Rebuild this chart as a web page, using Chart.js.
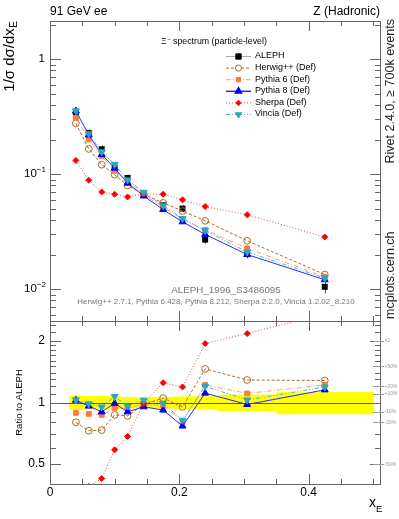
<!DOCTYPE html>
<html>
<head>
<meta charset="utf-8">
<script src="https://cdn.jsdelivr.net/npm/chart.js@4.4.1/dist/chart.umd.min.js"></script>
<style>
  html, body { margin: 0; padding: 0; background: #fff; }
  #wrap { position: relative; width: 399px; height: 519px; }
  canvas { position: absolute; left: 0; top: 0; }
</style>
</head>
<body>
<div id="wrap">
  <canvas id="mainChart" width="399" height="519"></canvas>
  <canvas id="ratioChart" width="399" height="519"></canvas>
</div>
<script>
// bin centres and edges in x_E
const xE = [0.04, 0.06, 0.08, 0.10, 0.12, 0.145, 0.175, 0.205, 0.24, 0.305, 0.425];
const binEdges = [0.03, 0.05, 0.07, 0.09, 0.11, 0.13, 0.16, 0.19, 0.22, 0.26, 0.35, 0.50];

// 1/sigma dsigma/dx_E
const aleph    = [0.346, 0.228, 0.165, 0.114, 0.093, 0.068, 0.0537, 0.0503, 0.0270, 0.0205, 0.0105];
const alephErr = [0.0277, 0.0171, 0.0124, 0.0080, 0.0060, 0.0041, 0.0035, 0.0035, 0.0020, 0.0019, 0.0013];
const herwig   = [0.277, 0.166, 0.121, 0.0992, 0.080, 0.0666, 0.0564, 0.0479, 0.0394, 0.0264, 0.01344];
const pythia6  = [0.308, 0.2006, 0.1436, 0.1072, 0.087, 0.0666, 0.0519, 0.0407, 0.0329, 0.0227, 0.0128];
const pythia8  = [0.355, 0.219, 0.1485, 0.1129, 0.0837, 0.0648, 0.0493, 0.0386, 0.0300, 0.02005, 0.0121];
const sherpa   = [0.132, 0.0887, 0.0702, 0.067, 0.0635, 0.0673, 0.0671, 0.0599, 0.0524, 0.0445, 0.0285];
const vincia   = [0.356, 0.2246, 0.1568, 0.122, 0.0893, 0.0698, 0.0532, 0.0412, 0.0324, 0.0211, 0.0125];

// axis ticks
const xMajor = [0, 0.2, 0.4];
const xMinor = [0.05, 0.1, 0.15, 0.25, 0.3, 0.35, 0.45, 0.5];
const ratioMajor = [0.5, 1, 2];
const ratioMinor = [0.4, 0.6, 0.7, 0.8, 0.9, 1.1, 1.2, 1.3, 1.4, 1.5, 1.6, 1.7, 1.8, 1.9, 2.2, 2.4];
const ratioMarks = [[2, '\u00d72'], [1.5, '+50%'], [1.2, '+20%'], [1.1, '+10%'], [0.9, '-10%'], [0.8, '-20%'], [0.5, '-50%']];

const FONT = '"Liberation Sans", Arial, sans-serif';
const FRAME = '#666';

const series = [
  { label: 'Vincia (Def)',   data: vincia,  color: '#2aa8c0', line: '#40b8d0', dash: [4, 2, 1, 2, 1, 2], style: 'triangle', rot: 180, r: 4, fill: true },
  { label: 'Sherpa (Def)',   data: sherpa,  color: '#ff0000', line: '#ff4040', dash: [1, 2], style: 'rectRot', rot: 0, r: 3, fill: true },
  { label: 'Pythia 8 (Def)', data: pythia8, color: '#0000ee', line: '#2a2aff', dash: [], style: 'triangle', rot: 0, r: 4, fill: true },
  { label: 'Pythia 6 (Def)', data: pythia6, color: '#ff7a3a', line: '#ffa070', dash: [5, 2, 1, 2], style: 'rect', rot: 0, r: 3.4, fill: true },
  { label: 'Herwig++ (Def)', data: herwig,  color: '#b0682a', line: '#b0682a', dash: [3, 2], style: 'circle', rot: 0, r: 3.4, fill: false }
];

function pts(arr) { return xE.map((x, i) => ({ x: x, y: arr[i] })); }

function mcDataset(s, values, order, clip) {
  return {
    label: s.label,
    data: pts(values),
    order: order,
    showLine: true,
    borderColor: s.line,
    borderWidth: 1,
    borderDash: s.dash,
    pointStyle: s.style,
    pointRotation: s.rot,
    pointRadius: s.r,
    pointBorderColor: s.color,
    pointBackgroundColor: s.fill ? s.color : 'rgba(0,0,0,0)',
    pointBorderWidth: 1,
    tension: 0,
    fill: false,
    clip: clip
  };
}

function supText(ctx, base, sup, xRight, y, size) {
  ctx.font = size + 'px ' + FONT;
  const wb = ctx.measureText(base).width;
  ctx.font = (size * 0.7) + 'px ' + FONT;
  const ws = ctx.measureText(sup).width;
  ctx.textAlign = 'left';
  ctx.textBaseline = 'middle';
  ctx.font = size + 'px ' + FONT;
  ctx.fillText(base, xRight - wb - ws, y);
  ctx.font = (size * 0.7) + 'px ' + FONT;
  ctx.fillText(sup, xRight - ws, y - size * 0.38);
}

function drawFrameAndTicks(ctx, a, xs, ys, yMajor, yMinor) {
  ctx.save();
  ctx.strokeStyle = FRAME;
  ctx.lineWidth = 1;
  ctx.strokeRect(a.left + 0.5, a.top + 0.5, a.right - a.left - 1, a.bottom - a.top);
  ctx.beginPath();
  const tick = (v, len) => {
    const px = Math.round(xs.getPixelForValue(v)) + 0.5;
    ctx.moveTo(px, a.bottom); ctx.lineTo(px, a.bottom - len);
    ctx.moveTo(px, a.top); ctx.lineTo(px, a.top + len);
  };
  xMajor.forEach(v => tick(v, 10));
  xMinor.forEach(v => tick(v, 5));
  const ytick = (v, len) => {
    const py = Math.round(ys.getPixelForValue(v)) + 0.5;
    if (py < a.top || py > a.bottom + 1) return;
    ctx.moveTo(a.left, py); ctx.lineTo(a.left + len, py);
    ctx.moveTo(a.right, py); ctx.lineTo(a.right - len, py);
  };
  yMajor.forEach(v => ytick(v, 11));
  yMinor.forEach(v => ytick(v, 6));
  ctx.stroke();
  ctx.restore();
}

// ---------- upper plot ----------
const logMajor = [1, 0.1, 0.01];
const logMinor = [];
[0.001, 0.01, 0.1, 1].forEach(d => { for (let k = 2; k <= 9; k++) logMinor.push(d * k); });

const mainPlugin = {
  id: 'mainDecor',
  beforeDatasetsDraw(chart) {
    const ctx = chart.ctx, xs = chart.scales.x, ys = chart.scales.y;
    ctx.save();
    ctx.strokeStyle = '#444';
    ctx.lineWidth = 1;
    ctx.beginPath();
    xE.forEach((x, i) => {
      const px = Math.round(xs.getPixelForValue(x)) + 0.5;
      ctx.moveTo(px, ys.getPixelForValue(aleph[i] - alephErr[i]));
      ctx.lineTo(px, ys.getPixelForValue(aleph[i] + alephErr[i]));
    });
    ctx.stroke();
    ctx.restore();
  },
  afterDraw(chart) {
    const ctx = chart.ctx, a = chart.chartArea, xs = chart.scales.x, ys = chart.scales.y;
    drawFrameAndTicks(ctx, a, xs, ys, logMajor, logMinor);
    ctx.save();
    ctx.fillStyle = '#000';
    // header
    ctx.font = '12px ' + FONT;
    ctx.textBaseline = 'alphabetic';
    ctx.textAlign = 'left';
    ctx.fillText('91 GeV ee', 50, 15);
    ctx.textAlign = 'right';
    ctx.fillText('Z (Hadronic)', 380, 15);
    // y tick labels
    ctx.textAlign = 'right';
    ctx.textBaseline = 'middle';
    ctx.font = '11.5px ' + FONT;
    ctx.fillText('1', 45, ys.getPixelForValue(1));
    supText(ctx, '10', '\u22121', 46, ys.getPixelForValue(0.1), 11.5);
    supText(ctx, '10', '\u22122', 46, ys.getPixelForValue(0.01), 11.5);
    // y title
    ctx.save();
    ctx.translate(10, 21);
    ctx.rotate(-Math.PI / 2);
    ctx.textAlign = 'right';
    ctx.textBaseline = 'middle';
    const sub = 'E';
    ctx.font = '10px ' + FONT;
    const wsub = ctx.measureText(sub).width;
    ctx.fillText(sub, 0, 4);
    ctx.font = '15px ' + FONT;
    ctx.fillText('1/\u03c3 d\u03c3/dx', -wsub - 0.5, 0);
    ctx.restore();
    // title inside
    ctx.font = '8.5px ' + FONT;
    ctx.textBaseline = 'middle';
    ctx.textAlign = 'left';
    ctx.fillText('\u039e', 161, 42);
    ctx.font = '6px ' + FONT;
    ctx.fillText('\u2212', 167.5, 39);
    ctx.font = '8.8px ' + FONT;
    ctx.fillText('spectrum (particle-level)', 173, 42);
    // legend
    const legend = [
      { label: 'ALEPH', color: '#000', line: '#aaa', dash: [], style: 'rect', rot: 0, r: 4.2, fill: true }
    ].concat([series[4], series[3], series[2], series[1], series[0]]);
    legend.forEach((s, i) => {
      const y = 56 + i * 11.6;
      ctx.save();
      ctx.strokeStyle = s.line;
      ctx.lineWidth = (s.label === 'Pythia 8 (Def)') ? 1.5 : 1;
      ctx.setLineDash(s.dash);
      ctx.beginPath();
      ctx.moveTo(226, y + 0.5); ctx.lineTo(251, y + 0.5);
      ctx.stroke();
      ctx.setLineDash([]);
      ctx.fillStyle = s.fill ? s.color : '#fff';
      ctx.strokeStyle = s.color;
      Chart.helpers.drawPoint(ctx, { pointStyle: s.style, rotation: s.rot, radius: s.r * 0.9, borderWidth: 1 }, 238.5, y + 0.5);
      ctx.restore();
      ctx.font = '9px ' + FONT;
      ctx.fillStyle = '#000';
      ctx.textAlign = 'left';
      ctx.textBaseline = 'middle';
      ctx.fillText(s.label, 255, y);
    });
    // analysis info
    ctx.fillStyle = '#777';
    ctx.textAlign = 'center';
    ctx.font = '9.8px ' + FONT;
    ctx.fillText('ALEPH_1996_S3486095', 226, 290);
    ctx.font = '8px ' + FONT;
    ctx.fillText('Herwig++ 2.7.1, Pythia 6.428, Pythia 8.212, Sherpa 2.2.0, Vincia 1.2.02_8.210', 216, 302);
    // right side texts
    ctx.save();
    ctx.translate(391, 19);
    ctx.rotate(-Math.PI / 2);
    ctx.font = '12.5px ' + FONT;
    ctx.fillStyle = '#222';
    ctx.textAlign = 'right';
    ctx.textBaseline = 'middle';
    ctx.fillText('Rivet 2.4.0, \u2265 700k events', 0, 0);
    ctx.restore();
    ctx.save();
    ctx.translate(391, 319);
    ctx.rotate(-Math.PI / 2);
    ctx.font = '12.5px ' + FONT;
    ctx.fillStyle = '#222';
    ctx.textAlign = 'left';
    ctx.textBaseline = 'middle';
    ctx.fillText('mcplots.cern.ch', 0, 0);
    ctx.restore();
    ctx.restore();
  }
};

const alephDataset = {
  label: 'ALEPH',
  data: pts(aleph),
  order: 5,
  showLine: false,
  pointStyle: 'rect',
  pointRadius: 4.2,
  pointBackgroundColor: '#000',
  pointBorderColor: '#000',
  pointBorderWidth: 0
};

new Chart(document.getElementById('mainChart').getContext('2d'), {
  type: 'scatter',
  data: {
    datasets: [alephDataset].concat(series.map((s, i) => mcDataset(s, s.data, i)))
  },
  options: {
    responsive: false,
    animation: false,
    devicePixelRatio: 1,
    layout: { padding: { left: 50, right: 18, top: 21, bottom: 198 } },
    plugins: { legend: { display: false }, tooltip: { enabled: false } },
    scales: {
      x: { type: 'linear', min: 0, max: 0.512, display: false },
      y: { type: 'logarithmic', min: 0.0053, max: 2.15, display: false }
    }
  },
  plugins: [mainPlugin]
});

// ---------- ratio plot ----------
const ratioPlugin = {
  id: 'ratioDecor',
  beforeDatasetsDraw(chart) {
    const ctx = chart.ctx, a = chart.chartArea, xs = chart.scales.x, ys = chart.scales.y;
    ctx.save();
    ctx.fillStyle = '#ffff00';
    for (let i = 0; i < aleph.length; i++) {
      const rel = alephErr[i] / aleph[i];
      const x0 = xs.getPixelForValue(binEdges[i]);
      const x1 = xs.getPixelForValue(binEdges[i + 1]);
      const y0 = ys.getPixelForValue(1 + rel);
      const y1 = ys.getPixelForValue(1 - rel);
      ctx.fillRect(x0, y0, x1 - x0 + 0.5, y1 - y0);
    }
    ctx.strokeStyle = '#555';
    ctx.lineWidth = 1;
    ctx.beginPath();
    const py = Math.round(ys.getPixelForValue(1)) + 0.5;
    ctx.moveTo(a.left, py); ctx.lineTo(a.right, py);
    ctx.stroke();
    ctx.restore();
  },
  afterDraw(chart) {
    const ctx = chart.ctx, a = chart.chartArea, xs = chart.scales.x, ys = chart.scales.y;
    drawFrameAndTicks(ctx, a, xs, ys, ratioMajor, ratioMinor);
    ctx.save();
    ctx.fillStyle = '#000';
    ctx.font = '12px ' + FONT;
    ctx.textAlign = 'right';
    ctx.textBaseline = 'middle';
    ratioMajor.forEach(v => ctx.fillText(String(v), 45, ys.getPixelForValue(v)));
    ctx.textAlign = 'center';
    ctx.textBaseline = 'top';
    xMajor.forEach(v => ctx.fillText(String(v), xs.getPixelForValue(v), a.bottom + 3));
    // x title
    ctx.textAlign = 'left';
    ctx.textBaseline = 'alphabetic';
    ctx.font = '14px ' + FONT;
    ctx.fillText('x', 369, 507);
    ctx.font = '9.5px ' + FONT;
    ctx.fillText('E', 376, 512);
    // y title
    ctx.save();
    ctx.translate(19, ys.getPixelForValue(1));
    ctx.rotate(-Math.PI / 2);
    ctx.font = '9.5px ' + FONT;
    ctx.textAlign = 'center';
    ctx.textBaseline = 'middle';
    ctx.fillText('Ratio to ALEPH', 0, 0);
    ctx.restore();
    // right-hand percentage marks
    ctx.strokeStyle = '#999';
    ctx.fillStyle = '#999';
    ctx.font = '5px ' + FONT;
    ctx.textAlign = 'left';
    ctx.textBaseline = 'middle';
    ctx.beginPath();
    ratioMarks.forEach(([v, t]) => {
      const py = Math.round(ys.getPixelForValue(v)) + 0.5;
      ctx.moveTo(a.right - 8, py); ctx.lineTo(a.right + 3, py);
    });
    ctx.stroke();
    ratioMarks.forEach(([v, t]) => ctx.fillText(t, a.right + 3.5, ys.getPixelForValue(v)));
    ctx.restore();
  }
};

new Chart(document.getElementById('ratioChart').getContext('2d'), {
  type: 'scatter',
  data: {
    datasets: series.map((s, i) => mcDataset(s, s.data.map((v, j) => v / aleph[j]), i, 0))
  },
  options: {
    responsive: false,
    animation: false,
    devicePixelRatio: 1,
    layout: { padding: { left: 50, right: 18, top: 321, bottom: 35 } },
    plugins: { legend: { display: false }, tooltip: { enabled: false } },
    scales: {
      x: { type: 'linear', min: 0, max: 0.512, display: false },
      y: { type: 'logarithmic', min: 0.4, max: 2.5, display: false }
    }
  },
  plugins: [ratioPlugin]
});
</script>
</body>
</html>
